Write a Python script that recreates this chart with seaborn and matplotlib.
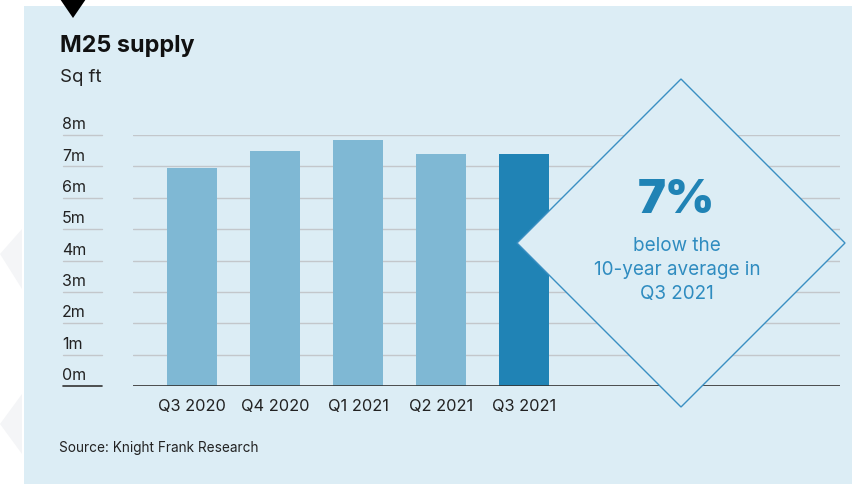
import numpy as np
import pandas as pd
import seaborn as sns
import matplotlib.pyplot as plt
from matplotlib.patches import Rectangle, Polygon
from matplotlib.transforms import blended_transform_factory

# data
quarters = ['Q3 2020', 'Q4 2020', 'Q1 2021', 'Q2 2021', 'Q3 2021']
supply_m = [6.95, 7.48, 7.83, 7.40, 7.40]
y_ticks = [0, 1, 2, 3, 4, 5, 6, 7, 8]
y_labels = [f'{v}m' for v in y_ticks]
bar_colors = ['#7fb8d4', '#7fb8d4', '#7fb8d4', '#7fb8d4', '#2083b5']
callout_lines = ['below the', '10-year average in', 'Q3 2021']

PANEL = '#dcedf5'
BLUE = '#2083b5'
W, H = 853, 485

sns.set_theme(style='white')
plt.rcParams['font.family'] = ['Inter', 'DejaVu Sans']

fig = plt.figure(figsize=(W / 100, H / 100), dpi=100, facecolor='white')

# faint shapes on the white margin
for pts in [[(0, 255), (22, 230), (22, 290)], [(0, 425), (22, 395), (22, 455)]]:
    fig.patches.append(Polygon([(x / W, 1 - y / H) for x, y in pts], closed=True,
                               transform=fig.transFigure, facecolor='#f4f5f7', edgecolor='none',
                               zorder=-2))

# light blue panel
fig.patches.append(Rectangle((24 / W, 0), 1 - 24 / W, 1 - 7 / H, transform=fig.transFigure,
                             facecolor=PANEL, edgecolor='none', zorder=-1))
# black marker triangle
fig.patches.append(Polygon([(60 / W, 1), (86 / W, 1), (73 / W, 1 - 19 / H)], closed=True,
                           transform=fig.transFigure, facecolor='black', edgecolor='none'))

ax = fig.add_axes([133 / W, 98 / H, (840 - 133) / W, (387 - 136) / H])
ax.set_facecolor('none')
ax.set_zorder(1)

df = pd.DataFrame({'quarter': quarters, 'supply': supply_m})
sns.barplot(data=df, x='quarter', y='supply', hue='quarter', palette=bar_colors,
            legend=False, width=0.6, linewidth=0, saturation=1, ax=ax, zorder=2)

ax.set_ylim(0, 8)
ax.set_xlim(-0.71, 7.8)
ax.set_yticks(y_ticks)
ax.set_yticklabels([])
ax.tick_params(axis='y', length=0)
ax.tick_params(axis='x', length=0, labelsize=11.8, colors='#222222', pad=9)
ax.set_xlabel('')
ax.set_ylabel('')
ax.yaxis.grid(True, color='#c3c7cb', linewidth=1)
ax.set_axisbelow(True)
for s in ax.spines.values():
    s.set_visible(False)
ax.axhline(0, color='#333333', linewidth=1.2, zorder=3)

# y labels with short rules, drawn left of the plot area
trans = blended_transform_factory(fig.transFigure, ax.transData)
for v, lab in zip(y_ticks, y_labels):
    col = '#333333' if v == 0 else '#c3c7cb'
    ax.plot([63 / W, 102 / W], [v, v], transform=trans, color=col, linewidth=1.2 if v == 0 else 1,
            clip_on=False)
    ax.text(62 / W, v + 0.12, lab, transform=trans, ha='left', va='bottom', fontsize=11.5,
            color='#222222')

# diamond callout
cx, cy, r = 681, 244, 164
diamond = [(cx, cy - r), (cx + r, cy), (cx, cy + r), (cx - r, cy)]
fig.patches.append(Polygon([(x / W, 1 - y / H) for x, y in diamond], closed=True,
                           transform=fig.transFigure, facecolor=PANEL, edgecolor='#3a8fc2',
                           linewidth=1, zorder=5))
fig.text(676 / W, 1 - 201 / H, '7%', ha='center', va='center', fontsize=34, fontweight='black',
         color=BLUE, zorder=6)
for i, line in enumerate(callout_lines):
    fig.text(677 / W, 1 - (246 + 24 * i) / H, line, ha='center', va='center',
             fontsize=13.6, color='#2f8cc0', zorder=6)

# titles and source
fig.text(60 / W, 1 - 46 / H, 'M25 supply', ha='left', va='center', fontsize=16.8,
         fontweight='bold', color='#111111')
fig.text(60 / W, 1 - 77 / H, 'Sq ft', ha='left', va='center', fontsize=13.4, color='#222222')
fig.text(59 / W, 1 - 448 / H, 'Source: Knight Frank Research', ha='left', va='center',
         fontsize=9.8, color='#222222')

fig.savefig('out.png', dpi=100, facecolor='white')
